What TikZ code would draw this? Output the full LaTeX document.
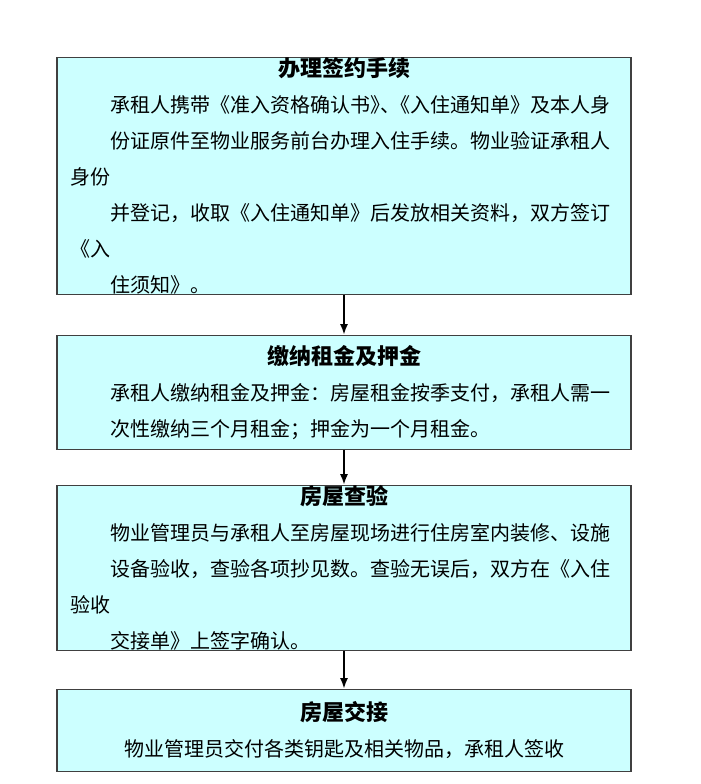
\documentclass[tikz,border=0pt]{standalone}
\usepackage{fontspec}
\setmainfont{Noto Sans CJK SC}
\XeTeXlinebreaklocale "zh"
\XeTeXlinebreakskip=0pt plus 1pt
\usetikzlibrary{positioning,arrows.meta}
\definecolor{boxcyan}{HTML}{CCFFFF}
\newcommand{\steptext}[2]{{\centering\fontsize{16.5pt}{27pt}\selectfont\bfseries #1\par}%
  {\raggedright\fontsize{15pt}{27pt}\selectfont\setlength{\parindent}{2em}\indent #2\par}}

\begin{document}
\begin{tikzpicture}[node distance=30pt, >={Latex[length=8pt,width=6pt]}]
				\tikzstyle{stepbox}=[draw=black!75, line width=0.8pt, fill=boxcyan, text width=410pt, minimum width=430.5pt, inner sep=0pt]
				\useasboundingbox (0,0) rectangle (525pt,-588pt);
				%Steps
				\node[stepbox, minimum height=140.25pt, anchor=north](sign) at (258pt,-42.75pt){\steptext{办理签约手续}{承租人携带《准入资格确认书》\kern-0.5em、\kern-0.5em《入住通知单》及本人身\\份证原件至物业服务前台办理入住手续。物业验证承租人身份\\并登记，收取《入住通知单》后发放相关资料，双方签订《入\\住须知》。}};
				\node[stepbox, minimum height=85.5pt](pay)[below=30pt of sign]{\steptext{缴纳租金及押金}{承租人缴纳租金及押金：房屋租金按季支付，承租人需一\\次性缴纳三个月租金；押金为一个月租金。}};
				\node[stepbox, minimum height=115.5pt](check)[below=26.25pt of pay]{\steptext{房屋查验}{物业管理员与承租人至房屋现场进行住房室内装修、设施\\设备验收，查验各项抄见数。查验无误后，双方在《入住验收\\交接单》上签字确认。}};
				\node[stepbox, minimum height=61.5pt](hand)[below=28.5pt of check]{{\centering\fontsize{16.5pt}{27pt}\selectfont\bfseries 房屋交接\par
				\fontsize{15pt}{27pt}\selectfont\mdseries 物业管理员交付各类钥匙及相关物品，承租人签收\par}};
				%Arrows
				\draw[->, line width=1.5pt] (sign) -- (pay);
				\draw[->, line width=1.5pt] (pay) -- (check);
				\draw[->, line width=1.5pt] (check) -- (hand);
\end{tikzpicture}
\end{document}
